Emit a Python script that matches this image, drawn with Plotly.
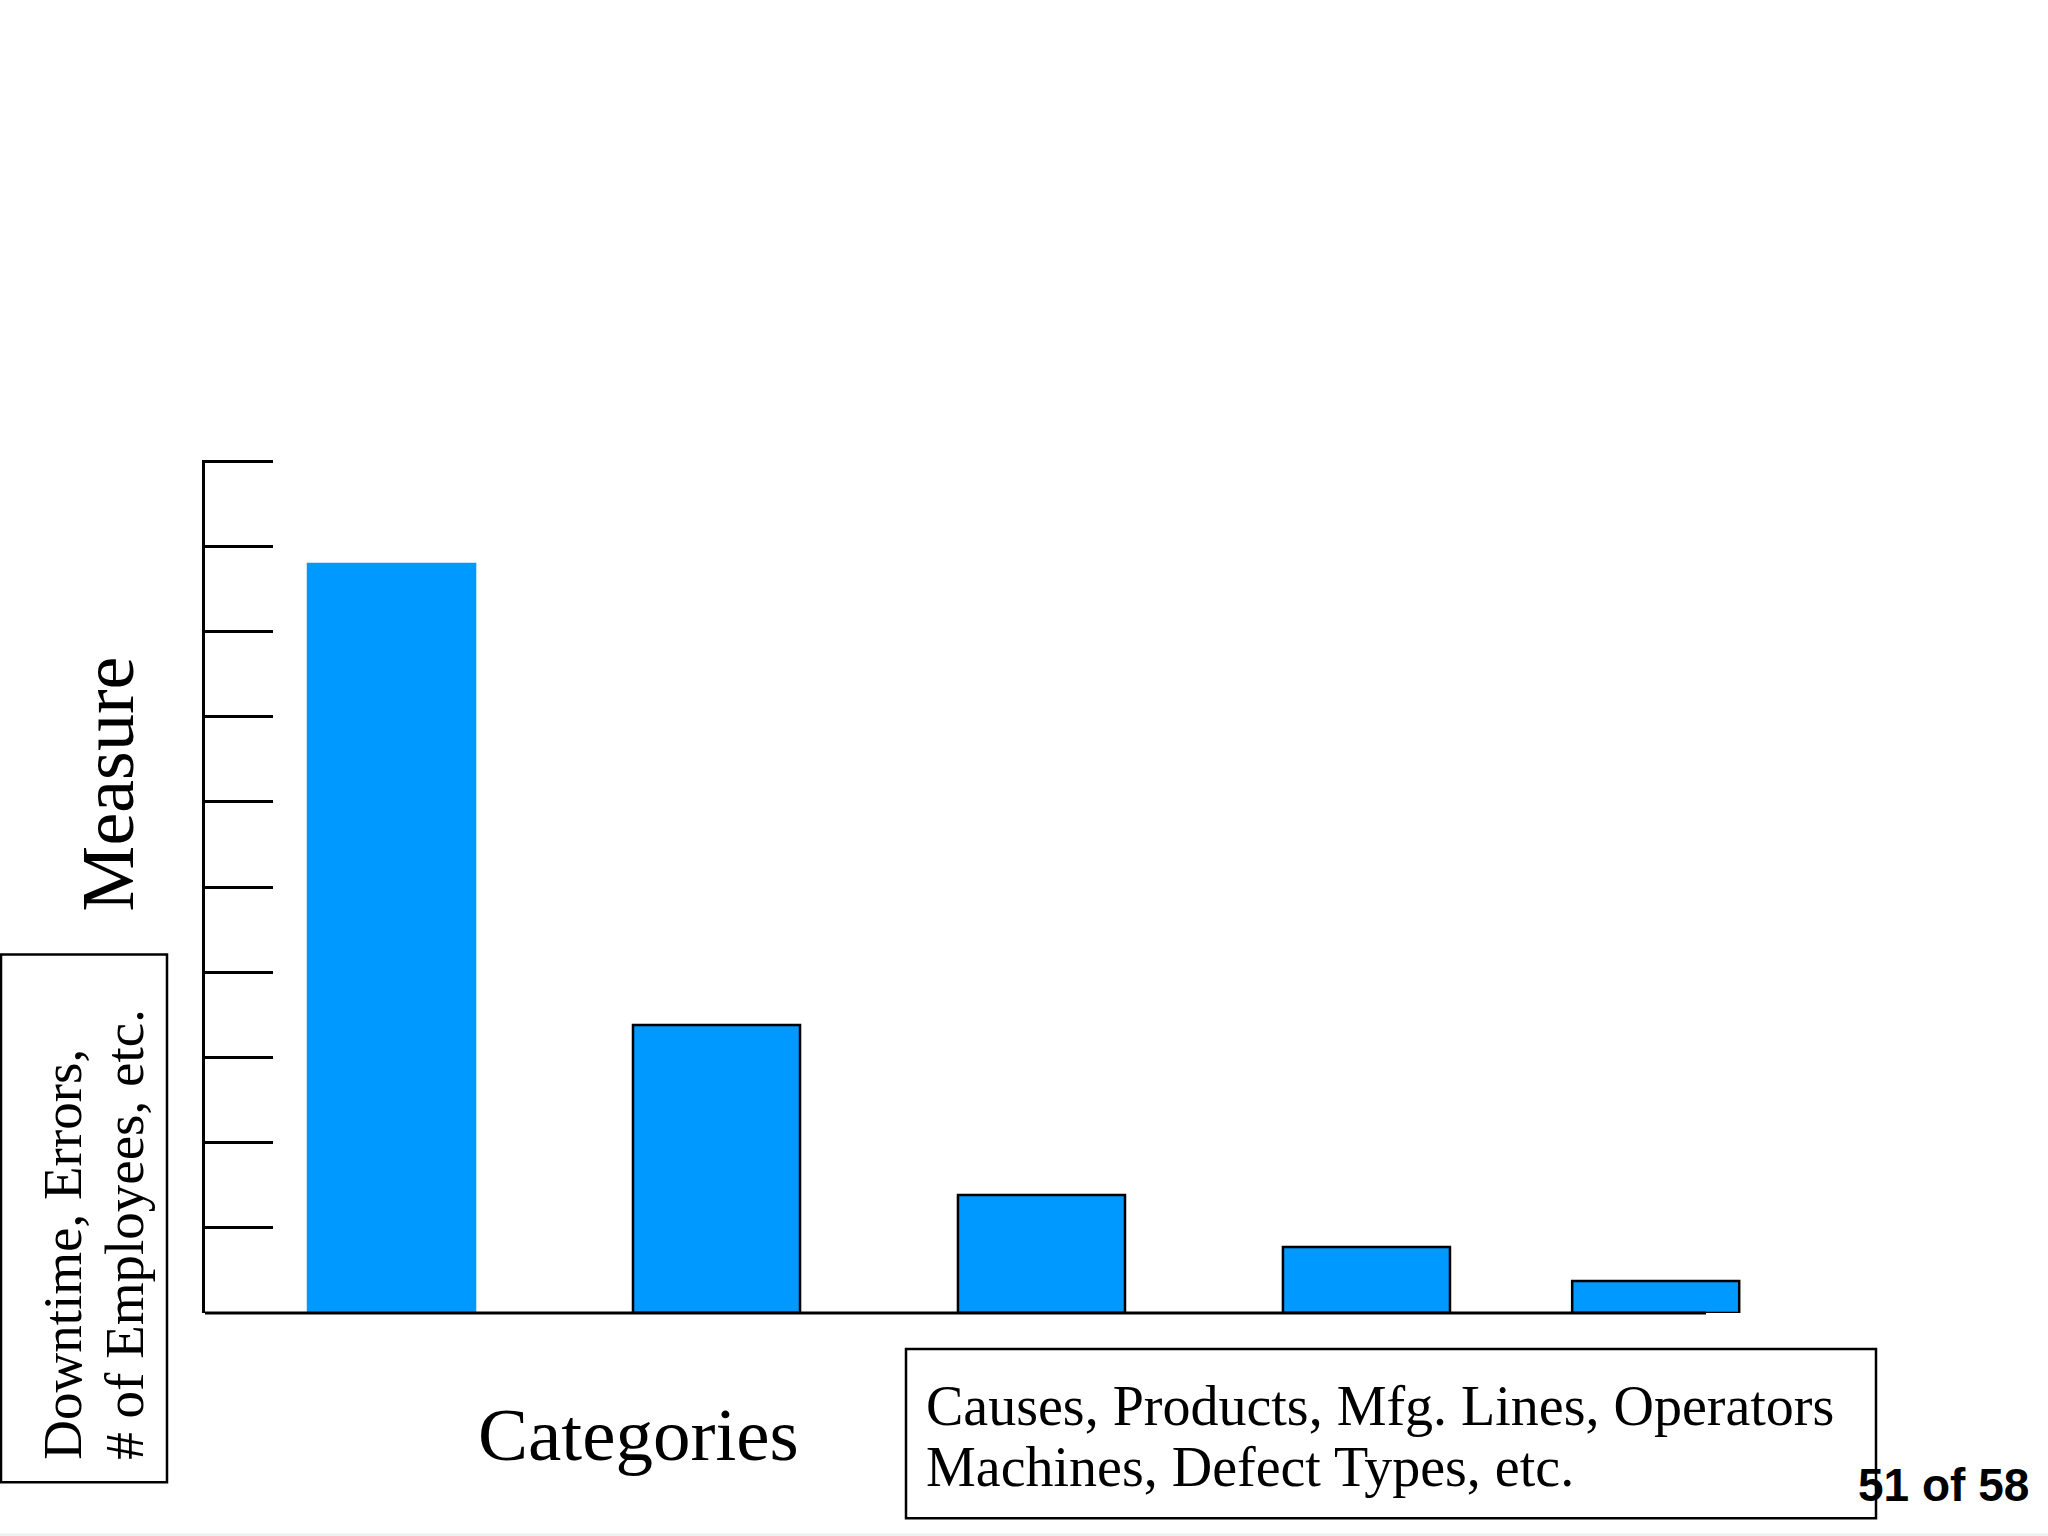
import plotly.graph_objects as go

# ---- data ----
categories = ["Category A", "Category B", "Category C", "Category D", "Category E"]
category_pos = [1, 2, 3, 4, 4.89]
values = [8.79, 3.38, 1.385, 0.775, 0.376]
y_ticks = list(range(0, 11))

BAR_BLUE = "#0099FF"
outline_colors = [BAR_BLUE, "black", "black", "black", "black"]

W, H = 2048, 1536
L, R, T, B = 205, 1760, 461, 1313


def px(x):
    return (x - L) / (R - L)


def py(y):
    return (B - y) / (B - T)


SERIF = "Liberation Serif, Times New Roman, DejaVu Serif, serif"

fig = go.Figure()
fig.add_trace(go.Bar(
    x=category_pos,
    y=values,
    width=0.514,
    text=categories,
    textposition="none",
    hoverinfo="y",
    marker=dict(color=BAR_BLUE, line=dict(color=outline_colors, width=2.5)),
))

fig.update_layout(
    width=W, height=H,
    margin=dict(l=L, r=W - R, t=T - 1, b=H - B, autoexpand=False),
    plot_bgcolor="white", paper_bgcolor="white",
    showlegend=False,
    xaxis=dict(range=[0.426, 5.211], showline=False, showticklabels=False,
               showgrid=False, zeroline=False, ticks=""),
    yaxis=dict(range=[0, 10.012], tickvals=y_ticks, ticks="inside", ticklen=68,
               tickwidth=2.5, tickcolor="black", showticklabels=False,
               showline=True, linewidth=3, linecolor="black",
               showgrid=False, zeroline=False),
)

shapes = [
    # x axis line (shorter than the plot area)
    dict(type="line", xref="paper", yref="paper", x0=px(205), x1=px(1706),
         y0=0, y1=0, line=dict(color="black", width=3), layer="above"),
    # left note box
    dict(type="rect", xref="paper", yref="paper", x0=px(1), x1=px(167),
         y0=py(1482), y1=py(955), line=dict(color="black", width=2.5)),
    # right note box
    dict(type="rect", xref="paper", yref="paper", x0=px(906), x1=px(1876),
         y0=py(1518), y1=py(1349), line=dict(color="black", width=2.5)),
    # faint strip at the very bottom
    dict(type="rect", xref="paper", yref="paper", x0=px(0), x1=px(2048),
         y0=py(1536), y1=py(1533), line=dict(width=0), fillcolor="#ecf3f3"),
]
fig.update_layout(shapes=shapes)

ann = []
ann.append(dict(text="Measure", x=px(108), y=py(785), xref="paper", yref="paper",
                textangle=-90, showarrow=False, xanchor="center", yanchor="middle",
                font=dict(family=SERIF, size=74, color="black")))
ann.append(dict(text="Categories", x=px(638), y=py(1434), xref="paper", yref="paper",
                showarrow=False, xanchor="center", yanchor="middle",
                font=dict(family=SERIF, size=75, color="black")))
ann.append(dict(text="Downtime, Errors,", x=px(63), y=py(1462), xref="paper", yref="paper",
                textangle=-90, showarrow=False, xanchor="center", yanchor="bottom",
                font=dict(family=SERIF, size=55, color="black")))
ann.append(dict(text="# of Employees, etc.", x=px(125), y=py(1462), xref="paper", yref="paper",
                textangle=-90, showarrow=False, xanchor="center", yanchor="bottom",
                font=dict(family=SERIF, size=55, color="black")))
ann.append(dict(text="Causes, Products, Mfg. Lines, Operators", x=px(924), y=py(1406),
                xref="paper", yref="paper", showarrow=False, xanchor="left", yanchor="middle",
                font=dict(family=SERIF, size=56, color="black")))
ann.append(dict(text="Machines, Defect Types, etc.", x=px(924), y=py(1467),
                xref="paper", yref="paper", showarrow=False, xanchor="left", yanchor="middle",
                font=dict(family=SERIF, size=56, color="black")))
ann.append(dict(text="<b>51 of 58</b>", x=px(1943), y=py(1485), xref="paper", yref="paper",
                showarrow=False, xanchor="center", yanchor="middle",
                font=dict(family="Liberation Sans, Arial, sans-serif",
                          size=46, color="black")))
fig.update_layout(annotations=ann)

fig.write_html("out.html", config={"displayModeBar": False},
               post_script="document.body.style.margin='0';")
